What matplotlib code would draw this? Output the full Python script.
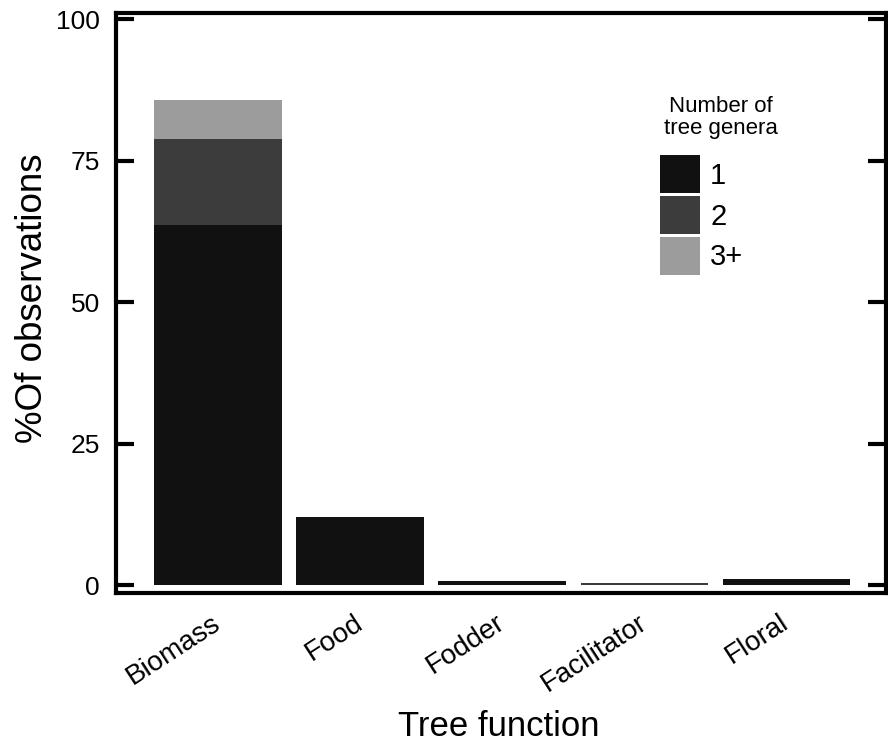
import numpy as np
import matplotlib
matplotlib.use("Agg")
import matplotlib.pyplot as plt
from matplotlib.patches import Patch

plt.rcParams['font.family'] = ['Liberation Sans', 'DejaVu Sans']

# data
functions = ['Biomass', 'Food', 'Fodder', 'Facilitator', 'Floral']
genera_1 = [63.6, 12.0, 0.7, 0.0, 1.0]
genera_2 = [15.2, 0.0, 0.0, 0.4, 0.0]
genera_3plus = [6.9, 0.0, 0.0, 0.0, 0.0]
series_labels = ['1', '2', '3+']
colores = ['#111111', '#3c3c3c', '#9c9c9c']
y_ticks = [0, 25, 50, 75, 100]

W, H = 888, 744
fig = plt.figure(figsize=(W / 100, H / 100), dpi=100)
ax = fig.add_axes([116 / W, 1 - 593 / H, 770 / W, 580 / H])

x = np.arange(len(functions))
abajo = np.zeros(len(functions))
for valores, color in zip([genera_1, genera_2, genera_3plus], colores):
    ax.bar(x, valores, width=0.9, bottom=abajo, color=color, edgecolor='none')
    abajo = abajo + np.array(valores)

ax.set_xlim(-0.72, 4.70)
ax.set_ylim(-1.4, 101.1)
ax.set_yticks(y_ticks)
ax.set_yticklabels([str(t) for t in y_ticks], fontsize=19)
ax.set_xticks(x)
ax.set_xticklabels(functions, rotation=33, fontsize=20, ha='right', va='center',
                   rotation_mode='anchor')
ax.tick_params(axis='y', direction='in', length=13, width=3, right=True, pad=11.5)
ax.tick_params(axis='x', length=0, pad=20)
for s in ax.spines.values():
    s.set_linewidth(3)

fig.text(33 / W, 1 - 298 / H, '%Of observations', fontsize=26.5,
         rotation=90, ha='center', va='center')
fig.text(499 / W, 1 - 743 / H, 'Tree function', fontsize=25,
         ha='center', va='bottom')

# legend title as its own text, legend boxes below it
fig.text(721 / W, 1 - 96 / H, 'Number of\ntree genera', fontsize=16,
         ha='center', va='top', multialignment='center', linespacing=1.05)
handles = [Patch(facecolor=c, edgecolor='none') for c in colores]
leg = ax.legend(handles, series_labels,
                loc='upper left', bbox_to_anchor=(660 / W, 1 - 155 / H),
                bbox_transform=fig.transFigure, frameon=False,
                fontsize=21, handlelength=1.37,
                handleheight=1.63, labelspacing=0.1, handletextpad=0.35,
                borderpad=0, borderaxespad=0)

fig.savefig('out.png', dpi=100)
